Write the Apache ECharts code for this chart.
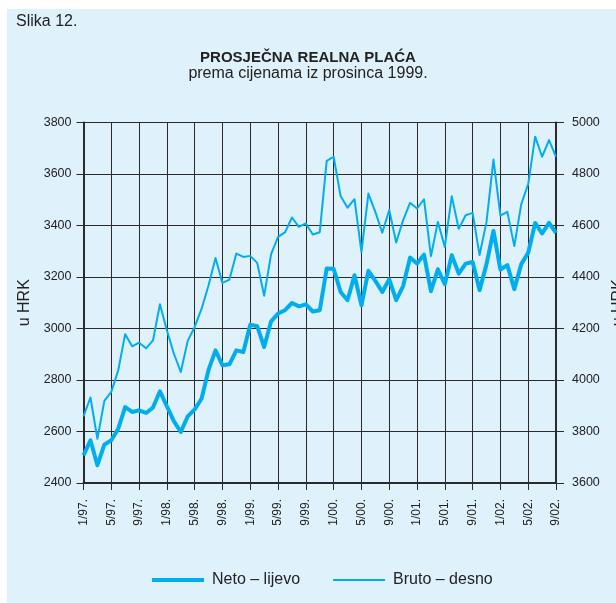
<!DOCTYPE html>
<html>
<head>
<meta charset="utf-8">
<script src="https://cdn.jsdelivr.net/npm/echarts@6/dist/echarts.min.js"></script>
<style>
html,body{margin:0;padding:0;background:#fff;}
#c{width:616px;height:603px;}
</style>
</head>
<body>
<div id="c"></div>
<script>
// Categories: months 1/97. ... 9/02.
var years = ['97','98','99','00','01','02'];
var categories = [];
years.forEach(function (y, yi) {
  var last = (yi === years.length - 1) ? 9 : 12;
  for (var m = 1; m <= last; m++) categories.push(m + '/' + y + '.');
});

// Neto (left axis), HRK
var neto = [2507,2566,2469,2549,2566,2611,2695,2676,2682,2672,2693,2756,
            2698,2640,2598,2659,2686,2728,2840,2915,2857,2861,2915,2909,
            3015,3009,2928,3028,3058,3071,3099,3086,3094,3066,3071,3233,
            3232,3142,3110,3207,3090,3224,3185,3142,3191,3110,3165,3276,
            3252,3287,3145,3230,3172,3285,3213,3252,3258,3149,3250,3379,
            3229,3246,3153,3250,3294,3410,3369,3410,3371];

// Bruto (right axis), HRK
var bruto = [3859,3932,3772,3919,3954,4038,4178,4131,4145,4123,4154,4294,
             4193,4103,4031,4152,4206,4277,4368,4474,4377,4390,4491,4478,
             4482,4455,4327,4489,4556,4573,4631,4595,4608,4565,4574,4851,
             4867,4715,4669,4702,4497,4724,4653,4572,4660,4534,4621,4688,
             4666,4702,4481,4614,4517,4714,4587,4640,4649,4485,4614,4856,
             4638,4653,4520,4683,4761,4945,4867,4932,4867];

var leftTicks = {min: 2400, max: 3800, interval: 200};
var rightTicks = {min: 3600, max: 5000, interval: 200};

var FONT = '"Liberation Sans", Arial, sans-serif';
var LINE = '#00aeef';
var TXT = '#222';
var GRIDC = '#2a2a2a';

function plain(v) { return String(v); }

var chart = echarts.init(document.getElementById('c'), null, {renderer: 'canvas'});
chart.setOption({
  backgroundColor: '#ffffff',
  animation: false,
  graphic: [
    {type: 'rect', z: -100, silent: true,
     shape: {x: 7, y: 9, width: 609, height: 594},
     style: {fill: '#dff1fb'}},
    {type: 'text', left: 16, top: 14,
     style: {text: 'Slika 12.', font: '16px ' + FONT, fill: TXT}},
    {type: 'text', left: 'center', top: 50,
     style: {text: 'PROSJEČNA REALNA PLAĆA', font: 'bold 15px ' + FONT, fill: TXT}},
    {type: 'text', left: 'center', top: 66,
     style: {text: 'prema cijenama iz prosinca 1999.', font: '16px ' + FONT, fill: TXT}}
  ],
  grid: {left: 83.5, right: 60, top: 122.5, bottom: 120, containLabel: false, outerBoundsMode: 'none'},
  legend: {
    left: 147, top: 567,
    itemWidth: 52, itemHeight: 14, itemGap: 33,
    itemStyle: {borderWidth: 0},
    textStyle: {fontFamily: FONT, fontSize: 16, color: TXT, padding: [0, 0, 0, 3]},
    data: [
      {name: 'Neto – lijevo', icon: 'path://M0,0L52,0L52,4L0,4Z'},
      {name: 'Bruto – desno', icon: 'path://M0,0L52,0L52,2L0,2Z'}
    ]
  },
  xAxis: {
    type: 'category',
    data: categories,
    boundaryGap: false,
    axisLine: {lineStyle: {color: GRIDC, width: 2}},
    axisTick: {show: true, inside: false, length: 7, interval: 3, lineStyle: {color: GRIDC, width: 1}},
    axisLabel: {interval: 3, rotate: 90, margin: 16, fontFamily: FONT, fontSize: 12, color: TXT},
    splitLine: {show: true, interval: 3, lineStyle: {color: GRIDC, width: 1}}
  },
  yAxis: [
    {
      type: 'value', position: 'left',
      min: leftTicks.min, max: leftTicks.max, interval: leftTicks.interval,
      name: 'u HRK', nameLocation: 'middle', nameRotate: 90, nameGap: 41,
      nameTextStyle: {fontFamily: FONT, fontSize: 16, color: TXT},
      axisLine: {show: true, lineStyle: {color: GRIDC, width: 2}},
      axisTick: {show: true, inside: false, length: 7, lineStyle: {color: GRIDC, width: 1}},
      axisLabel: {margin: 12, fontFamily: FONT, fontSize: 12.5, color: TXT, formatter: plain},
      splitLine: {show: true, lineStyle: {color: GRIDC, width: 1}}
    },
    {
      type: 'value', position: 'right',
      min: rightTicks.min, max: rightTicks.max, interval: rightTicks.interval,
      name: 'u HRK', nameLocation: 'middle', nameRotate: 90, nameGap: 48,
      nameTextStyle: {fontFamily: FONT, fontSize: 16, color: TXT},
      axisLine: {show: true, lineStyle: {color: GRIDC, width: 2}},
      axisTick: {show: true, inside: false, length: 8, lineStyle: {color: GRIDC, width: 1}},
      axisLabel: {margin: 16, fontFamily: FONT, fontSize: 12.5, color: TXT, formatter: plain},
      splitLine: {show: false}
    }
  ],
  series: [
    {
      name: 'Neto – lijevo', type: 'line', yAxisIndex: 0,
      data: neto, symbol: 'none', z: 3,
      lineStyle: {color: LINE, width: 4, join: 'round'},
      itemStyle: {color: LINE}
    },
    {
      name: 'Bruto – desno', type: 'line', yAxisIndex: 1,
      data: bruto, symbol: 'none', z: 3,
      lineStyle: {color: LINE, width: 2, join: 'round'},
      itemStyle: {color: LINE}
    }
  ]
});
</script>
</body>
</html>
